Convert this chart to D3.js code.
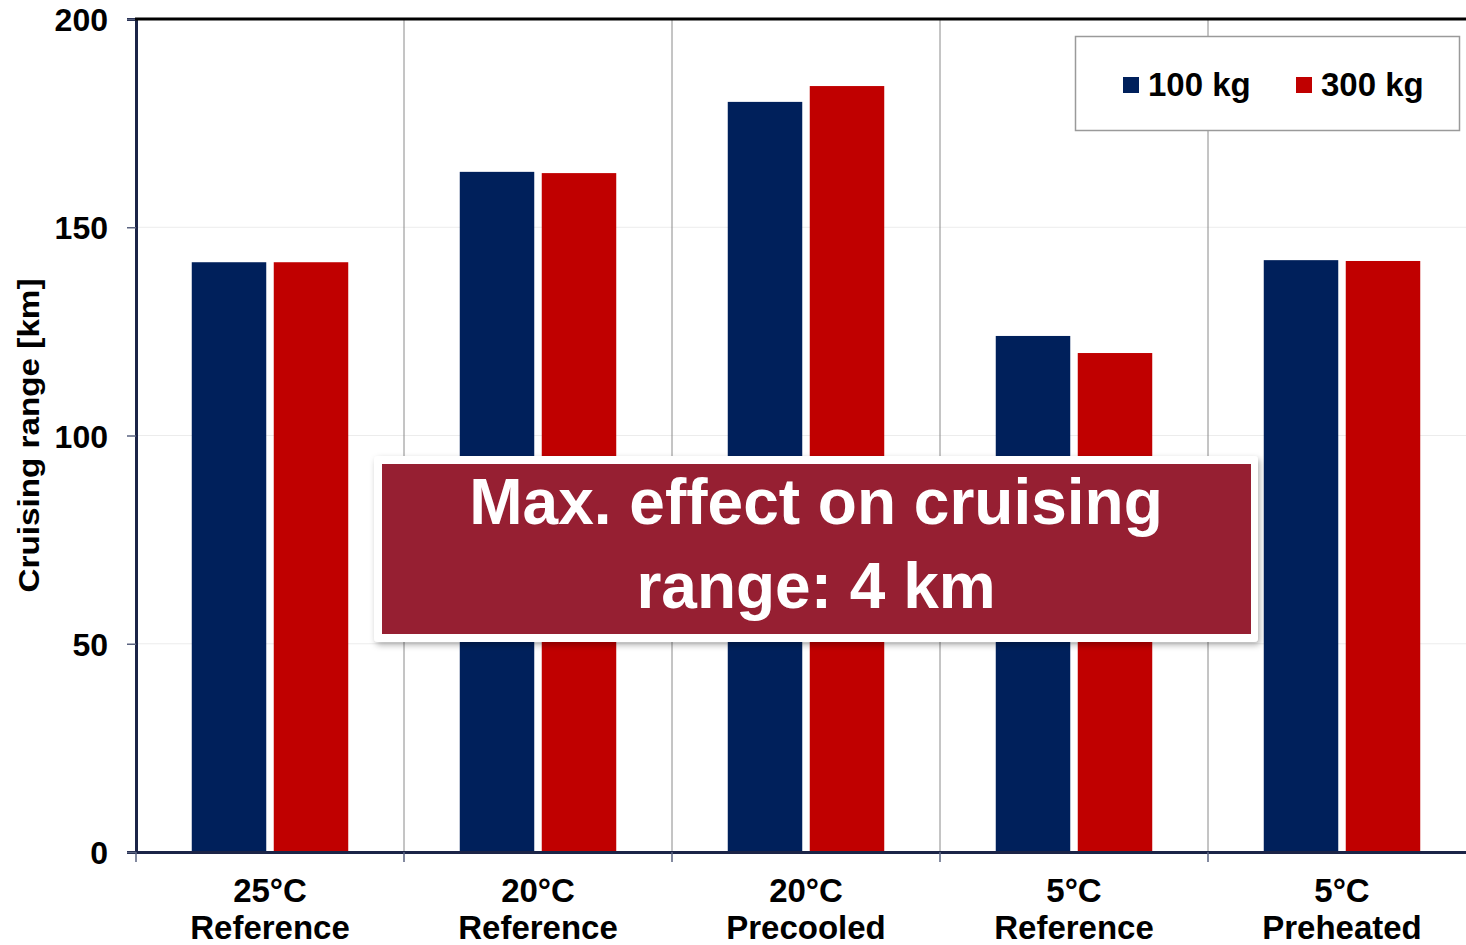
<!DOCTYPE html>
<html>
<head>
<meta charset="utf-8">
<script src="https://cdn.jsdelivr.net/npm/d3@7"></script>
<style>
  body { margin: 0; background: #fff; }
  svg { display: block; font-family: "Liberation Sans", Arial, sans-serif; font-weight: bold; }
</style>
</head>
<body>
<script>
// DATA
const categories = ["25°C Reference", "20°C Reference", "20°C Precooled", "5°C Reference", "5°C Preheated"];
const tickLines = [["25°C", "Reference"], ["20°C", "Reference"], ["20°C", "Precooled"], ["5°C", "Reference"], ["5°C", "Preheated"]];
const series = ["100 kg", "300 kg"];
const range100 = [141.6, 163.3, 180.1, 123.9, 142.1];
const range300 = [141.6, 163.0, 183.9, 119.8, 141.9];
const yTicks = [0, 50, 100, 150, 200];
const colors = ["#00205b", "#c00000"];

// Declare the chart dimensions and margins.
const width = 1466;
const height = 945;
const marginTop = 19;
const marginLeft = 136;
const marginBottom = 93;
const groupWidth = 268;

// SCALE
const x0 = d3.scaleBand().domain(categories).range([marginLeft, marginLeft + groupWidth * categories.length]).padding(0);
const x1 = d3.scaleBand().domain(series).range([0, groupWidth]).paddingInner(0.0915).paddingOuter(0.68);
const y = d3.scaleLinear().domain([0, 200]).range([height - marginBottom, marginTop]);

const svg = d3.select("body").append("svg")
    .attr("width", width)
    .attr("height", height);

// shadow for the note box
const defs = svg.append("defs");
const shadow = defs.append("filter").attr("id", "shadow").attr("x", "-5%").attr("y", "-10%").attr("width", "110%").attr("height", "125%");
shadow.append("feDropShadow").attr("dx", 2).attr("dy", 3).attr("stdDeviation", 3).attr("flood-color", "#000").attr("flood-opacity", 0.3);

// GRID
svg.append("g")
    .selectAll("line")
    .data(yTicks.slice(1, -1))
    .join("line")
    .attr("x1", marginLeft).attr("x2", width)
    .attr("y1", d => y(d)).attr("y2", d => y(d))
    .attr("stroke", "#ececec").attr("stroke-width", 1);

svg.append("g")
    .selectAll("line")
    .data(categories.slice(1))
    .join("line")
    .attr("x1", d => x0(d)).attr("x2", d => x0(d))
    .attr("y1", y(200)).attr("y2", y(0))
    .attr("stroke", "#8a8a8a").attr("stroke-width", 1);

// BARS
const groups = svg.append("g")
    .selectAll("g")
    .data(categories.map((c, i) => ({ cat: c, vals: [range100[i], range300[i]] })))
    .join("g")
    .attr("transform", d => `translate(${x0(d.cat)},0)`);

groups.selectAll("rect")
    .data(d => d.vals.map((v, j) => ({ key: series[j], value: v, j })))
    .join("rect")
    .attr("x", d => x1(d.key))
    .attr("y", d => y(d.value))
    .attr("width", x1.bandwidth())
    .attr("height", d => y(0) - y(d.value))
    .attr("fill", d => colors[d.j]);

// AXIS
const yAxis = svg.append("g")
    .attr("transform", `translate(${marginLeft},0)`)
    .call(d3.axisLeft(y).tickValues(yTicks).tickSize(9).tickPadding(19));
yAxis.select(".domain").attr("stroke", "#1b2447").attr("stroke-width", 3);
yAxis.selectAll(".tick line").attr("stroke", "#5a6380").attr("stroke-width", 1.5);
yAxis.selectAll(".tick text").attr("font-size", 32).attr("fill", "#000").attr("dy", "0.36em");

const xAxis = svg.append("g")
    .attr("transform", `translate(0,${y(0)})`)
    .call(d3.axisBottom(x0).tickSize(0).tickFormat(""));
xAxis.select(".domain").attr("stroke", "#1b2447").attr("stroke-width", 3);

// boundary ticks under the x axis
svg.append("g")
    .selectAll("line")
    .data(categories.slice(1).map(d => x0(d)).concat([marginLeft]))
    .join("line")
    .attr("x1", d => d).attr("x2", d => d)
    .attr("y1", y(0)).attr("y2", y(0) + 10)
    .attr("stroke", "#5a6380").attr("stroke-width", 1.5);

// x tick labels (two lines)
svg.append("g")
    .selectAll("text")
    .data(categories)
    .join("text")
    .attr("x", d => x0(d) + x0.bandwidth() / 2)
    .attr("y", 902)
    .attr("text-anchor", "middle")
    .attr("font-size", 33)
    .selectAll("tspan")
    .data((d, i) => tickLines[i])
    .join("tspan")
    .attr("x", function () { return this.parentNode.getAttribute("x"); })
    .attr("dy", (d, i) => i === 0 ? 0 : 37)
    .text(d => d);

// top frame line
svg.append("line")
    .attr("x1", marginLeft - 1).attr("x2", width)
    .attr("y1", y(200)).attr("y2", y(200))
    .attr("stroke", "#000").attr("stroke-width", 3);

// Y TITLE
svg.append("text")
    .attr("transform", `translate(39,${(y(0) + y(200)) / 2}) rotate(-90)`)
    .attr("text-anchor", "middle")
    .attr("font-size", 29)
    .attr("textLength", 314)
    .attr("lengthAdjust", "spacingAndGlyphs")
    .text("Cruising range [km]");

// LEGEND
const legend = svg.append("g");
legend.append("rect")
    .attr("x", 1075.5).attr("y", 36.5)
    .attr("width", 384).attr("height", 94)
    .attr("fill", "#fff").attr("stroke", "#9a9a9a").attr("stroke-width", 1.5);

const legendX = [1123, 1296];
series.forEach((s, i) => {
    legend.append("rect")
        .attr("x", legendX[i]).attr("y", 77)
        .attr("width", 16).attr("height", 16)
        .attr("fill", colors[i]);
    legend.append("text")
        .attr("x", legendX[i] + 25).attr("y", 96)
        .attr("font-size", 33)
        .text(s);
});

// NOTE BOX
const note = svg.append("g");
note.append("rect")
    .attr("x", 374).attr("y", 456)
    .attr("width", 884).attr("height", 186)
    .attr("rx", 4)
    .attr("fill", "#fff")
    .attr("filter", "url(#shadow)");
note.append("rect")
    .attr("x", 382).attr("y", 464)
    .attr("width", 869).attr("height", 170)
    .attr("fill", "#961f32");
note.selectAll("text")
    .data(["Max. effect on cruising", "range: 4 km"])
    .join("text")
    .attr("x", 816)
    .attr("y", (d, i) => 524 + i * 84)
    .attr("text-anchor", "middle")
    .attr("font-size", 64)
    .attr("fill", "#fff")
    .text(d => d);
</script>
</body>
</html>
